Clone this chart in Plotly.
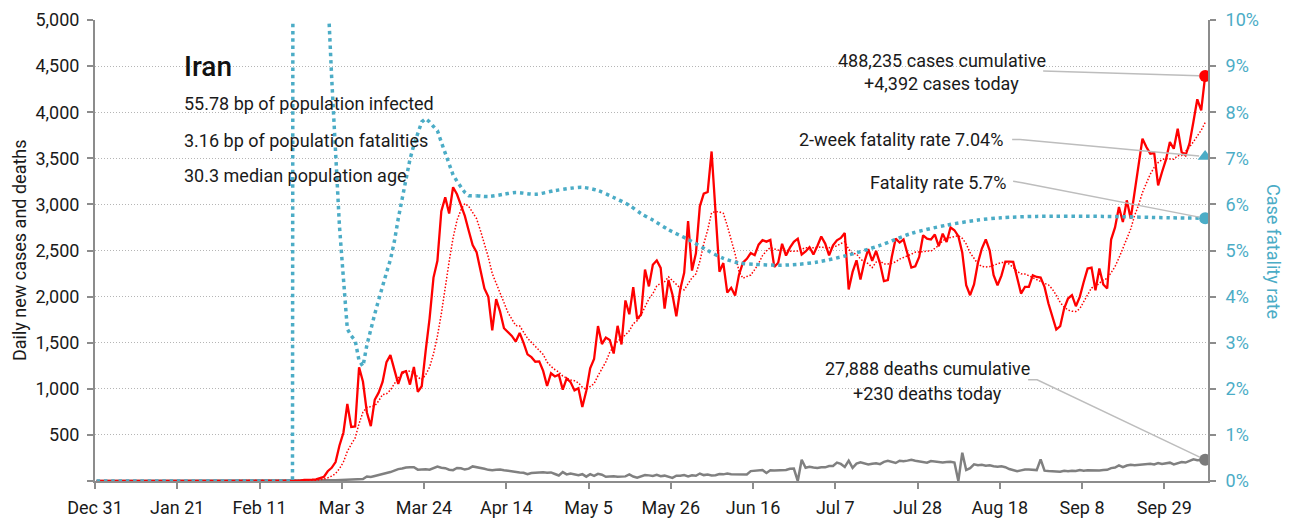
import math
import pandas as pd
import plotly.graph_objects as go

# ---------------- data ----------------
# daily new cases, one value per day starting Dec 31
cases = [0] * 51 + [
    2, 3, 13, 10, 15, 18, 34, 44, 106, 143,
    205, 385, 523, 835, 586, 591, 1234, 1076, 743, 595,
    881, 958, 1075, 1289, 1365, 1209, 1053, 1178, 1192, 1046,
    1237, 966, 1028, 1411, 1762, 2206, 2389, 2926, 3076, 2901,
    3186, 3110, 2987, 2875, 2715, 2560, 2483, 2274, 2089, 1997,
    1634, 1972, 1837, 1657, 1617, 1574, 1512, 1606, 1499, 1374,
    1343, 1294, 1297, 1194, 1030, 1168, 1134, 1153, 991, 1112,
    1073, 983, 1006, 802, 976, 1223, 1323, 1680, 1485, 1556,
    1529, 1383, 1683, 1481, 1958, 1808, 2102, 1757, 1806, 2294,
    2111, 2346, 2392, 2311, 1869, 2180, 2023, 1787, 2080, 2258,
    2819, 2282, 2470, 2979, 3117, 3134, 3574, 2886, 2269, 2364,
    2043, 2095, 2011, 2238, 2369, 2410, 2472, 2449, 2563, 2612,
    2596, 2615, 2322, 2368, 2573, 2445, 2531, 2595, 2628, 2456,
    2489, 2536, 2457, 2549, 2652, 2575, 2448, 2557, 2611, 2636,
    2690, 2077, 2268, 2394, 2185, 2376, 2514, 2387, 2495, 2358,
    2167, 2178, 2430, 2629, 2586, 2619, 2467, 2315, 2329, 2430,
    2665, 2629, 2619, 2673, 2546, 2683, 2593, 2750, 2720, 2656,
    2475, 2123, 2015, 2132, 2367, 2521, 2620, 2499, 2232, 2123,
    2227, 2380, 2380, 2376, 2207, 2033, 2105, 2105, 2232, 2213,
    2207, 2105, 1925, 1780, 1643, 1679, 1871, 1979, 2015, 1896,
    1997, 2159, 2304, 2315, 2069, 2304, 2131, 2088, 2619, 2750,
    2972, 2809, 3044, 2846, 3117, 3405, 3713, 3622, 3550, 3557,
    3207, 3351, 3485, 3676, 3604, 3821, 3568, 3532, 3658, 3893,
    4140, 4019, 4392,
]

# daily deaths, same days
deaths = [0] * 51 + [
    2, 0, 2, 1, 3, 4, 4, 3, 7, 8,
    9, 11, 12, 11, 15, 15, 17, 21, 49, 43,
    54, 63, 75, 85, 97, 113, 129, 135, 147, 149,
    149, 123, 129, 127, 122, 143, 157, 144, 139, 123,
    117, 141, 138, 124, 134, 158, 151, 136, 133, 121,
    117, 122, 125, 117, 111, 98, 94, 92, 89, 73,
    87, 91, 88, 94, 90, 93, 76, 60, 96, 71,
    80, 71, 63, 74, 47, 74, 55, 78, 68, 45,
    48, 51, 45, 48, 50, 71, 48, 35, 51, 65,
    61, 55, 66, 51, 58, 50, 34, 57, 56, 64,
    50, 63, 57, 81, 64, 70, 59, 63, 75, 72,
    81, 74, 75, 71, 78, 71, 107, 113, 115, 120,
    87, 116, 115, 119, 121, 119, 133, 135, 0, 230,
    144, 155, 147, 141, 148, 148, 163, 163, 200, 185,
    153, 221, 142, 188, 203, 194, 179, 188, 193, 183,
    207, 218, 209, 195, 220, 215, 221, 229, 219, 212,
    208, 198, 216, 210, 206, 202, 205, 208, 200, 0,
    307, 119, 140, 180, 170, 175, 165, 170, 160, 155,
    160, 150, 130, 115, 105, 115, 125, 125, 120, 118,
    235, 112, 108, 105, 104, 101, 110, 105, 112, 108,
    119, 112, 116, 114, 110, 115, 119, 121, 140, 146,
    170, 150, 168, 175, 172, 175, 180, 178, 188, 180,
    195, 185, 190, 199, 180, 195, 205, 200, 215, 235,
    225, 225, 230,
]

# case fatality rate (%): early daily part (day index, value) and later part
cfr_day_early = [0, 50, 51, 52, 53, 54, 55, 56, 57, 58, 59, 60,
                 61, 62, 63, 64, 65, 66, 67, 68, 69, 70, 71, 72, 73, 74, 75,
                 76, 77, 78, 79, 80, 81, 82, 83, 84, 85, 86, 87, 88, 89, 90,
                 91, 92, 93, 94, 95, 96, 97]
cfr_pct_early = [0, 0, 100, 40, 22.2, 17.9, 18.6, 19.7, 16.8, 13.7, 10.6, 8.76,
                 7.25, 5.52, 4.40, 3.30, 3.15, 3.05, 2.61, 2.49, 2.95, 3.31, 3.62, 3.93, 4.26, 4.52, 4.80,
                 5.19, 5.69, 6.11, 6.54, 6.98, 7.29, 7.55, 7.79, 7.86, 7.79, 7.69, 7.60, 7.35, 7.11, 6.89,
                 6.64, 6.50, 6.38, 6.26, 6.19, 6.19, 6.19]
cfr_day_late = [97, 100, 104, 107, 112, 117, 121, 124,
                128, 132, 136, 139, 142, 146, 151, 156, 160, 164, 168, 174,
                179, 184, 191, 200, 208, 217, 225, 231, 240, 257, 274, 283]
cfr_pct_late = [6.19, 6.17, 6.22, 6.26, 6.22, 6.30, 6.35, 6.37,
                6.30, 6.15, 5.98, 5.80, 5.66, 5.45, 5.24, 5.00, 4.83, 4.73, 4.70, 4.68,
                4.70, 4.75, 4.88, 5.11, 5.37, 5.55, 5.66, 5.71, 5.74, 5.74, 5.71, 5.70]

two_week_cfr = 7.04
total_cases = 488235
total_deaths = 27888

tick_labels = ["Dec 31", "Jan 21", "Feb 11", "Mar 3", "Mar 24", "Apr 14", "May 5",
               "May 26", "Jun 16", "Jul 7", "Jul 28", "Aug 18", "Sep 8", "Sep 29"]
left_ticks = [0, 500, 1000, 1500, 2000, 2500, 3000, 3500, 4000, 4500, 5000]
right_ticks = [0, 1, 2, 3, 4, 5, 6, 7, 8, 9, 10]

stats = ["55.78 bp of population infected",
         "3.16 bp of population fatalities",
         "30.3 median population age"]

# ---------------- derived ----------------
dates = pd.date_range("2019-12-31 10:00", periods=len(cases), freq="D")
avg7 = pd.Series(cases).rolling(7, min_periods=1).mean()
tick_dates = pd.date_range("2019-12-31", periods=len(tick_labels), freq="21D")

FONT = "Roboto, Liberation Sans, Arial, sans-serif"
FS = 18
RED = "#ff0000"
GRAY = "#808080"
BLUE = "#4bacc6"
AXIS = "#8c8c8c"
TXT = "#1a1a1a"

fig = go.Figure()

fig.add_trace(go.Scatter(x=dates, y=deaths, mode="lines",
                         line=dict(color=GRAY, width=2.5), yaxis="y"))
fig.add_trace(go.Scatter(x=dates, y=avg7, mode="lines",
                         line=dict(color=RED, width=1.5, dash="1.5px,1.8px"), yaxis="y"))
fig.add_trace(go.Scatter(x=dates, y=cases, mode="lines",
                         line=dict(color=RED, width=2.3), yaxis="y"))
fig.add_trace(go.Scatter(x=[dates[-1]], y=[cases[-1]], mode="markers",
                         marker=dict(color=RED, size=12), yaxis="y"))
fig.add_trace(go.Scatter(x=[dates[-1]], y=[deaths[-1]], mode="markers",
                         marker=dict(color="#7a7a7a", size=12), yaxis="y"))

CFR_LINE = dict(color=BLUE, width=3.5, dash="3.5px,3.8px")
fig.add_trace(go.Scatter(x=[dates[d] for d in cfr_day_early], y=cfr_pct_early,
                         mode="lines", yaxis="y2", line=CFR_LINE))
fig.add_trace(go.Scatter(x=[dates[d] for d in cfr_day_late], y=cfr_pct_late,
                         mode="lines", yaxis="y2",
                         line=dict(CFR_LINE, shape="spline", smoothing=0.8)))
fig.add_trace(go.Scatter(x=[dates[-1]], y=[two_week_cfr], mode="markers", yaxis="y2",
                         marker=dict(color=BLUE, size=13, symbol="triangle-up")))
fig.add_trace(go.Scatter(x=[dates[-1]], y=[cfr_pct_late[-1]], mode="markers", yaxis="y2",
                         marker=dict(color=BLUE, size=12)))

x_end = dates[-1].normalize() + pd.Timedelta(hours=27.6)

# the page has an 8px body margin, so the figure is 8px smaller than the window
fig.update_layout(
    width=1285, height=514,
    margin=dict(l=87, r=85, t=12, b=41),
    paper_bgcolor="white", plot_bgcolor="white",
    showlegend=False,
    font=dict(family=FONT, size=FS, color=TXT),
    xaxis=dict(type="date", range=[pd.Timestamp("2019-12-31"), x_end],
               tickvals=tick_dates, ticktext=tick_labels, automargin=False,
               showgrid=False, zeroline=False,
               showline=True, linecolor=AXIS, linewidth=2,
               ticks="outside", ticklen=6, tickwidth=2, tickcolor=AXIS,
               tickfont=dict(family=FONT, size=FS, color=TXT),
               ticklabelstandoff=3),
    yaxis=dict(range=[0, 5000], tickvals=left_ticks, automargin=False,
               ticktext=[""] + [f"{v:,}" for v in left_ticks[1:]],
               showgrid=True, gridcolor="#b5b5b5", gridwidth=1, griddash="1px,2px",
               zeroline=False,
               showline=True, linecolor=AXIS, linewidth=2,
               ticks="outside", ticklen=6, tickwidth=2, tickcolor=AXIS,
               tickfont=dict(family=FONT, size=FS, color=TXT),
               ticklabelstandoff=4),
    yaxis2=dict(range=[0, 10], overlaying="y", side="right", automargin=False,
                tickvals=right_ticks, ticktext=[f"{v}%" for v in right_ticks],
                showgrid=False, zeroline=False,
                showline=True, linecolor=AXIS, linewidth=2,
                ticks="outside", ticklen=6, tickwidth=2, tickcolor=AXIS,
                tickfont=dict(family=FONT, size=FS, color=BLUE),
                ticklabelstandoff=6),
)


def px(x):
    return (x - 95) / 1113.0


def py(y):
    return (481 - y) / 461.0


ann = []
ann.append(dict(text="Iran", x=px(182), y=py(66), xanchor="left", yanchor="middle",
                font=dict(family=FONT, size=28, color="#111111", weight=500)))
for s, yy in zip(stats, [104, 140, 175]):
    ann.append(dict(text=s, x=px(182), y=py(yy), xanchor="left", yanchor="middle",
                    font=dict(family=FONT, size=FS, color=TXT)))
ann.append(dict(text=f"{total_cases:,} cases cumulative", x=px(941.5), y=py(60),
                xanchor="center", yanchor="middle"))
ann.append(dict(text=f"+{cases[-1]:,} cases today", x=px(941.5), y=py(84),
                xanchor="center", yanchor="middle"))
ann.append(dict(text=f"2-week fatality rate {two_week_cfr:.2f}%", x=px(1005), y=py(139),
                xanchor="right", yanchor="middle"))
ann.append(dict(text=f"Fatality rate {cfr_pct_late[-1]}%", x=px(1008), y=py(182.5),
                xanchor="right", yanchor="middle"))
ann.append(dict(text=f"{total_deaths:,} deaths cumulative", x=px(927.5), y=py(368),
                xanchor="center", yanchor="middle"))
ann.append(dict(text=f"+{deaths[-1]} deaths today", x=px(927.5), y=py(393),
                xanchor="center", yanchor="middle"))
ann.append(dict(text="Daily new cases and deaths", x=px(19), y=py(250), textangle=-90,
                xanchor="center", yanchor="middle"))
ann.append(dict(text="Case fatality rate", x=px(1274), y=py(251), textangle=90,
                xanchor="center", yanchor="middle",
                font=dict(family=FONT, size=FS, color=BLUE)))
for a in ann:
    a.update(xref="paper", yref="paper", showarrow=False)
    a.setdefault("font", dict(family=FONT, size=FS, color=TXT))
fig.update_layout(annotations=ann)

# leader lines anchored on the end points, in pixel offsets (y up); they stop at the marker edge
LEAD = dict(color="#bdbdbd", width=1.5)
leaders = [
    ("y", cases[-1], [(-162, 5)]),
    ("y2", two_week_cfr, [(-193, 17), (-185, 17)]),
    ("y2", cfr_pct_late[-1], [(-192, 37), (-183, 35.5)]),
    ("y", deaths[-1], [(-177, 80), (-168, 80)]),
]
shapes = []
for yref, yv, pts in leaders:
    lx, ly = pts[-1]
    r = math.hypot(lx, ly)
    ex, ey = lx * 6 / r, ly * 6 / r
    path = "M " + " L ".join(f"{a:.1f},{b:.1f}" for a, b in pts + [(ex, ey)])
    shapes.append(dict(type="path", xref="x", yref=yref,
                       xsizemode="pixel", ysizemode="pixel",
                       xanchor=dates[-1], yanchor=yv, path=path,
                       line=LEAD, layer="above"))
fig.update_layout(shapes=shapes)

fig.write_html("out.html")
